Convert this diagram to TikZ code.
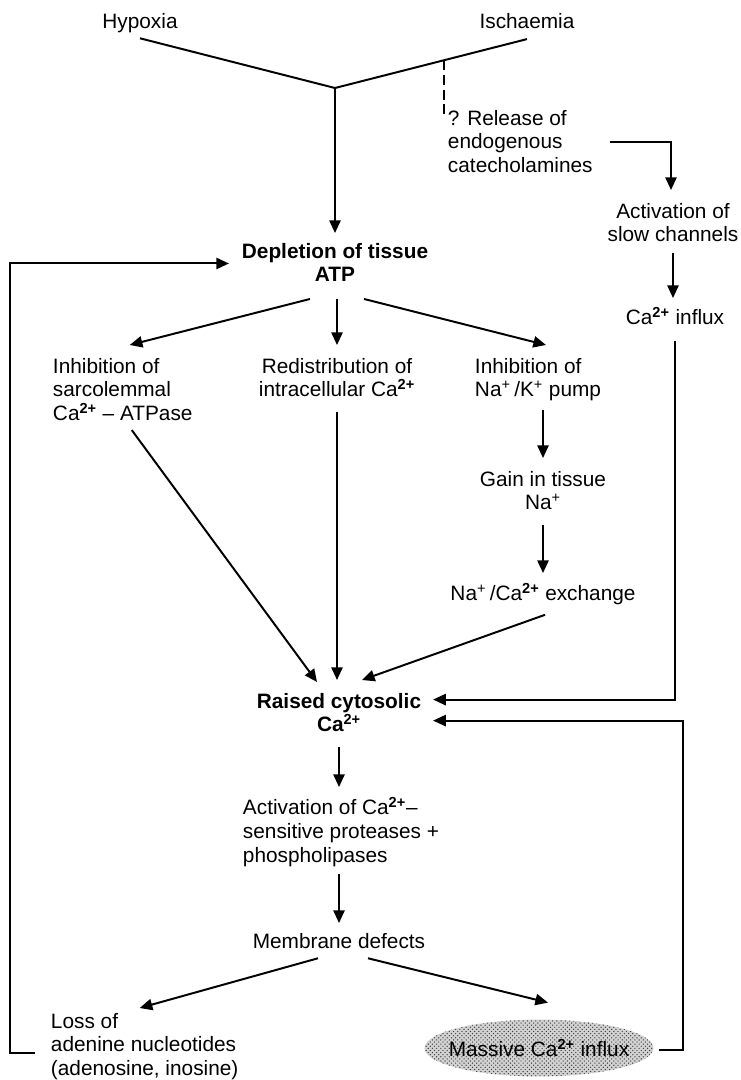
\documentclass[tikz,border=0pt]{standalone}
\usepackage{fontspec}
\setmainfont{Liberation Sans}
\usetikzlibrary{arrows.meta,calc,patterns,shapes.geometric}

\newcommand{\Catwo}{Ca\textsuperscript{\bfseries 2+}}
\newcommand{\Naplus}{Na\textsuperscript{+}}
\newcommand{\Kplus}{K\textsuperscript{+}}

\tikzset{
    lbl/.style={inner sep=0pt, font=\fontsize{14.8}{17}\selectfont, align=center},
    lbll/.style={lbl, align=left},
    key/.style={lbl, font=\fontsize{14.8}{17}\selectfont\bfseries},
    arr/.style={-{Triangle[length=9pt,width=8pt]}},
}

\begin{document}
\begin{tikzpicture}[x=0.025cm,y=-0.025cm,line width=1.4pt]

        \useasboundingbox (0,0) rectangle (741,1080);

        % Causes
        \node[lbl,anchor=north] (hyp) at (140,12) {Hypoxia};
        \node[lbl,anchor=north] (isch) at (527,12) {Ischaemia};
        \coordinate (junc) at (335,88);

        % Slow channel branch
        \node[lbll,anchor=north west] (rel) at (447,109) {? Release of\\endogenous\\catecholamines};
        \node[lbl,anchor=north] (slow) at (673,202) {Activation of\\slow channels};
        \node[lbl,anchor=north] (cain) at (675,306) {\Catwo{} influx};

        % ATP depletion and its effects
        \node[key,anchor=north] (dep) at (335,242) {Depletion of tissue\\ATP};
        \node[lbll,anchor=north west] (inhs) at (52,357) {Inhibition of\\sarcolemmal\\\Catwo{} -- ATPase};
        \node[lbl,anchor=north] (redis) at (337,357) {Redistribution of\\intracellular \Catwo};
        \node[lbll,anchor=north west] (inhn) at (474,357) {Inhibition of\\\Naplus\,/\Kplus{} pump};
        \node[lbl,anchor=north] (gain) at (543,470) {Gain in tissue\\\Naplus};
        \node[lbl,anchor=north] (exch) at (543,582) {\Naplus\,/\Catwo{} exchange};

        % Calcium overload
        \node[key,anchor=north] (raised) at (339,692) {Raised cytosolic\\\Catwo};
        \node[lbll,anchor=north west] (act) at (242,796) {Activation of \Catwo--\\sensitive proteases +\\phospholipases};
        \node[lbl,anchor=north] (mem) at (339,932) {Membrane defects};
        \node[lbll,anchor=north west] (loss) at (50,1012) {Loss of\\adenine nucleotides\\(adenosine, inosine)};
        \node[ellipse,inner sep=0pt,minimum width=5.72cm,minimum height=1.42cm,
              preaction={fill=gray!35},pattern=crosshatch dots,pattern color=black!75] (massoval) at (539,1048) {};
        \node[lbl] (mass) at (massoval.center) {Massive \Catwo{} influx};

        % Connections
        \draw ([yshift=-3.5pt]hyp.south) -- (junc);
        \draw ([yshift=-7pt]isch.south) -- (junc);
        \coordinate (dtop) at ($(junc)!0.57!([yshift=-7pt]isch.south)$);
        \draw[dashed,dash pattern=on 7pt off 3.5pt] (dtop) -- ($(dtop |- rel.north)+(0,5)$);
        \draw[arr] (junc) -- ($(dep.north)+(0,-9)$);

        \draw[arr] ($(rel.east)+(16,0)$) -| ($(slow.north)+(-2,-12)$);
        \draw[arr] ($(slow.south)+(0,10)$) -- ($(slow.north |- cain.north)+(0,-8)$);
        \draw[arr] ($(cain.south)+(0,15)$) |- ($(raised.east)+(11,-13)$);

        \draw[arr] ($(dep.south)+(-25,16)$) -- ($(inhs.north)+(7,-12)$);
        \draw[arr] ($(dep.south)+(2,16)$) -- ($(redis.north)+(0,-12)$);
        \draw[arr] ($(dep.south)+(29,16)$) -- ($(inhn.north)+(8,-12)$);
        \draw[arr] ($(gain.north |- inhn.south)+(0,8)$) -- ($(gain.north)+(0,-12)$);
        \draw[arr] ($(gain.south)+(0,14)$) -- ($(exch.north)+(0,-9)$);

        \draw[arr] ($(inhs.south)+(9,8)$) -- ($(raised.north)+(-22,-10)$);
        \draw[arr] ($(redis.south)+(0,14)$) -- ($(redis.south |- raised.north)+(0,-12)$);
        \draw[arr] ($(exch.south)+(2,9)$) -- ($(raised.north)+(23,-12)$);

        \draw[arr] ($(raised.south)+(0,14)$) -- ($(raised.south |- act.north)+(0,-9)$);
        \draw[arr] ($(mem.north |- act.south)+(0,6)$) -- ($(mem.north)+(0,-9)$);
        \draw[arr] ($(mem.south)+(-21,9)$) -- ($(loss.north)+(-5,-4)$);
        \draw[arr] ($(mem.south)+(29,9)$) -- ($(massoval.north)+(9,-16)$);

        % Feedback loops
        \draw[arr] ($(massoval.east)+(5,2)$) -- ++(24,0) |- ($(raised.east)+(11,8)$);
        \draw[arr] ($(loss.west)+(-15,6)$) -- ++(-25,0) |- ($(dep.west)+(-12,1)$);

    \end{tikzpicture}
\end{document}
